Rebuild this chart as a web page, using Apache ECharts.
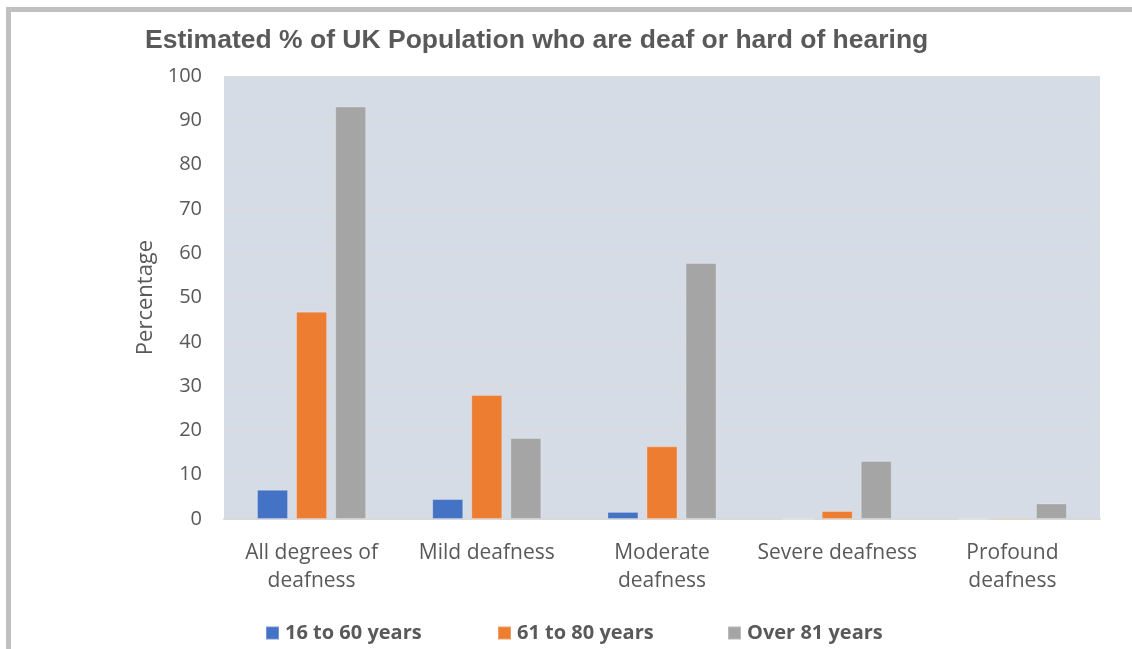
<!DOCTYPE html>
<html>
<head>
<meta charset="utf-8">
<title>Estimated % of UK Population who are deaf or hard of hearing</title>
<script src="https://cdn.jsdelivr.net/npm/echarts@6/dist/echarts.min.js"></script>
<style>
  html, body { margin: 0; padding: 0; background: #ffffff; }
  #frame {
    position: absolute; left: 6px; top: 7px; width: 1140px; height: 660px;
    border-left: 5px solid #c0c0c0; border-top: 5px solid #c0c0c0;
    box-sizing: border-box;
  }
  #chart { position: absolute; left: 0; top: 0; width: 1132px; height: 649px; }
</style>
</head>
<body>
<div id="frame"></div>
<div id="chart"></div>
<script>
// Hearing loss categories along the x axis
const categories = [
  'All degrees of\ndeafness',
  'Mild deafness',
  'Moderate\ndeafness',
  'Severe deafness',
  'Profound\ndeafness'
];

// Estimated percentage per age band
const ages16to60 = [6.6, 4.5, 1.6, 0, 0];
const ages61to80 = [46.8, 28.0, 16.4, 1.8, 0.3];
const agesOver81 = [93.1, 18.3, 57.8, 13.1, 3.5];

const seriesNames = ['16 to 60 years', '61 to 80 years', 'Over 81 years'];
const seriesColors = ['#4472c4', '#ed7d31', '#a5a5a5'];

const textColor = '#595959';
const font = '"Open Sans", "Liberation Sans", sans-serif';

const chart = echarts.init(document.getElementById('chart'), null, { renderer: 'canvas' });

// one legend block per series so each sits at its own spot along the bottom
const legendLefts = [260, 492, 722];
const legends = seriesNames.map((name, i) => ({
  data: [name],
  left: legendLefts[i],
  top: 618,
  itemWidth: 13,
  itemHeight: 13,
  itemGap: 0,
  icon: 'rect',
  selectedMode: false,
  textStyle: { color: textColor, fontSize: 20, fontWeight: 'bold', fontFamily: font, padding: [0, 0, 0, 1] }
}));

const valueSets = [ages16to60, ages61to80, agesOver81];

chart.setOption({
  animation: false,
  title: {
    text: 'Estimated % of UK Population who are deaf or hard of hearing',
    left: 140,
    top: 22,
    textStyle: {
      color: textColor, fontSize: 26.5, fontWeight: 'bold',
      fontFamily: '"Liberation Sans", Arial, sans-serif'
    }
  },
  legend: legends,
  grid: {
    left: 224, right: 32, top: 76, bottom: 130,
    show: true, backgroundColor: '#d6dce5', borderWidth: 0
  },
  xAxis: {
    type: 'category',
    data: categories,
    axisLine: { show: true, lineStyle: { color: '#d9d9d9', width: 2 } },
    axisTick: { show: false },
    axisLabel: {
      color: textColor, fontSize: 21, fontFamily: font,
      lineHeight: 28, margin: 20, interval: 0
    }
  },
  yAxis: {
    type: 'value',
    min: 0, max: 100, interval: 10,
    name: 'Percentage',
    nameLocation: 'middle',
    nameGap: 67,
    nameTextStyle: { color: textColor, fontSize: 22, fontFamily: font },
    axisLine: { show: false },
    axisTick: { show: false },
    axisLabel: { color: textColor, fontSize: 20, fontFamily: font, margin: 22 },
    splitLine: { lineStyle: { color: '#dedcd8', width: 1 } }
  },
  series: seriesNames.map((name, i) => ({
    name: name,
    type: 'bar',
    data: valueSets[i],
    barWidth: 31,
    barGap: '26%',
    itemStyle: {
      color: seriesColors[i],
      borderColor: 'rgba(255,255,255,0.25)',
      borderWidth: 1
    }
  }))
});
</script>
</body>
</html>
